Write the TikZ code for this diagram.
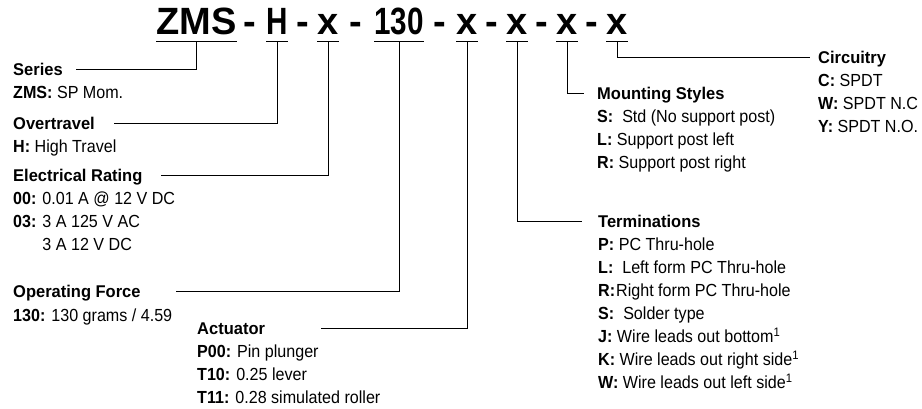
\documentclass[tikz,border=0pt]{standalone}
\usepackage{fontspec}
\setmainfont{Liberation Sans}
\usetikzlibrary{positioning}
\tikzset{
  code/.style={font=\fontsize{38}{40}\selectfont\bfseries, inner sep=0pt,
    text height=27pt, text depth=7pt, anchor=base},
  narrowcode/.style={code, font=\fontsize{38}{40}\selectfont\addfontfeature{FakeStretch=0.78}\bfseries},
  codesep/.style={font=\fontsize{38}{40}\selectfont\bfseries, inner sep=0pt, anchor=base},
  heading/.style={font=\fontsize{17}{23}\selectfont\addfontfeature{FakeStretch=0.97}\bfseries,
    inner sep=0pt, text height=12pt, text depth=0pt, anchor=base west},
  entries/.style={font=\fontsize{17.5}{23}\selectfont\addfontfeature{FakeStretch=0.92},
    inner sep=0pt, align=left},
  leader/.style={line width=0.8pt}
}
\begin{document}
\begin{tikzpicture}[x=1pt,y=-1pt]
      \useasboundingbox (0,0) rectangle (922,408);
      \path
        (196.5,34) node[code] (t0) {ZMS}
        (250,34) node[codesep] (d1) {-}
        (277,34) node[narrowcode] (t1) {H}
        (302.5,34) node[codesep] (d2) {-}
        (328,34) node[code] (t2) {x}
        (356,34) node[codesep] (d3) {-}
        (399,34) node[narrowcode] (t3) {130}
        (440,34) node[codesep] (d4) {-}
        (467,34) node[code] (t4) {x}
        (492,34) node[codesep] (d5) {-}
        (517,34) node[code] (t5) {x}
        (542,34) node[codesep] (d6) {-}
        (567,34) node[code] (t6) {x}
        (592,34) node[codesep] (d7) {-}
        (617,34) node[code] (t7) {x};
      \path
        (13,75) node[heading] (series) {Series}
        (13,129) node[heading] (over) {Overtravel}
        (13,181) node[heading] (elec) {Electrical Rating}
        (13,297.5) node[heading] (force) {Operating Force}
        (197,334) node[heading] (act) {Actuator}
        (597,99) node[heading] (mount) {Mounting Styles}
        (598,227) node[heading] (term) {Terminations}
        (818,63) node[heading] (circ) {Circuitry};
      \node[entries, below=10.5pt of series.south west, anchor=north west] (seriesb)
        {\textbf{ZMS:} SP Mom.};
      \node[entries, below=10.5pt of over.south west, anchor=north west] (overb)
        {\textbf{H:} High Travel};
      \node[entries, below=10.5pt of elec.south west, anchor=north west] (elecb)
        {\textbf{00:} 0.01 A @ 12 V DC\\
         \textbf{03:} 3 A 125 V AC\\
         \phantom{\textbf{03:} }3 A 12 V DC};
      \node[entries, below=10.5pt of force.south west, anchor=north west] (forceb)
        {\textbf{130:} 130 grams / 4.59};
      \node[entries, below=10.5pt of act.south west, anchor=north west] (actb)
        {\textbf{P00:} Pin plunger\\
         \textbf{T10:} 0.25 lever\\
         \textbf{T11:} 0.28 simulated roller};
      \node[entries, below=10.5pt of mount.south west, anchor=north west] (mountb)
        {\textbf{S:}\ \ Std (No support post)\\
         \textbf{L:} Support post left\\
         \textbf{R:} Support post right};
      \node[entries, below=10.5pt of term.south west, anchor=north west] (termb)
        {\textbf{P:} PC Thru-hole\\
         \textbf{L:}\ \ Left form PC Thru-hole\\
         \textbf{R:}\hspace{1pt}Right form PC Thru-hole\\
         \textbf{S:}\ \ Solder type\\
         \textbf{J:} Wire leads out bottom\textsuperscript{1}\\
         \textbf{K:} Wire leads out right side\textsuperscript{1}\\
         \textbf{W:} Wire leads out left side\textsuperscript{1}};
      \node[entries, below=10.5pt of circ.south west, anchor=north west] (circb)
        {\textbf{C:} SPDT\\
         \textbf{W:} SPDT N.C\\
         \textbf{Y:} SPDT N.O.};
      \begin{scope}[leader]
        \draw (t0.south west) -- (t0.south east);
        \draw (t1.south west) -- (t1.south east);
        \draw (t2.south west) -- (t2.south east);
        \draw (t3.south west) -- (t3.south east);
        \draw (t4.south west) -- (t4.south east);
        \draw (t5.south west) -- (t5.south east);
        \draw (t6.south west) -- (t6.south east);
        \draw (t7.south west) -- (t7.south east);
        \draw (t0.south) |- ([xshift=13pt]series.east);
        \draw (t1.south) |- ([xshift=19pt]over.east);
        \draw (t2.south) |- ([xshift=18pt]elec.east);
        \draw (t3.south) |- ([xshift=35pt]force.east);
        \draw (t4.south) |- ([xshift=56pt]act.east);
        \draw (t5.south) |- ([xshift=-16pt]term.west);
        \draw (t6.south) |- ([xshift=-13pt]mount.west);
        \draw (t7.south) |- ([xshift=-8pt]circ.west);
      \end{scope}
    \end{tikzpicture}
\end{document}
